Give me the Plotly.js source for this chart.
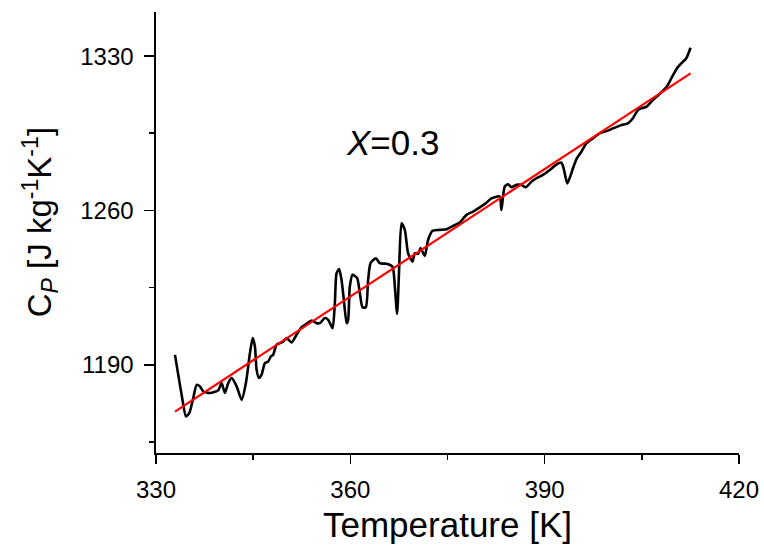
<!DOCTYPE html>
<html>
<head>
<meta charset="utf-8">
<script src="https://cdn.plot.ly/plotly-3.0.1.min.js"></script>
<style>html,body{margin:0;padding:0;background:#fff;}#chart{width:764px;height:548px;}</style>
</head>
<body>
<div id="chart"></div>
<script>
// Measured heat capacity (black curve)
var temperature = [332.93,333.96,334.63,335.14,335.75,336.28,336.79,337.30,338.33,339.61,340.13,340.64,341.15,341.68,342.45,343.22,343.88,344.50,344.92,345.27,345.53,345.89,346.30,346.81,347.32,347.74,348.09,348.25,348.62,349.13,349.64,350.16,350.93,351.70,352.47,353.25,354.02,354.79,355.30,356.07,356.58,357.26,357.61,357.87,358.27,358.64,359.00,359.42,359.66,359.92,360.34,361.05,361.47,361.88,362.39,362.75,363.12,363.94,364.55,365.59,366.51,366.87,367.22,367.53,367.90,368.41,368.92,369.60,369.95,370.46,370.83,371.49,372.00,372.68,373.81,374.84,376.12,376.89,377.93,378.94,379.98,381.01,381.78,383.06,383.32,383.83,384.34,384.87,385.64,386.41,387.07,387.95,388.72,389.74,390.78,391.70,392.58,392.93,393.50,394.37,394.89,395.66,396.43,397.45,398.49,399.77,400.54,401.84,402.85,403.62,404.40,404.92,405.69,406.71,407.74,408.78,409.55,410.41,411.09,411.86,412.52];
var cp = [1194.5,1176.4,1166.6,1168.1,1174.9,1180.9,1180.2,1177.9,1177.2,1178.4,1181.7,1177.2,1181.7,1184.0,1180.2,1174.1,1181.7,1195.3,1202.1,1198.3,1187.7,1184.0,1185.5,1190.8,1191.5,1193.8,1194.5,1196.0,1199.1,1199.8,1200.6,1202.1,1200.1,1203.6,1207.1,1208.6,1210.1,1208.9,1208.9,1211.2,1210.4,1206.6,1218.0,1231.5,1233.4,1228.5,1219.4,1208.9,1210.4,1225.5,1230.8,1229.3,1222.5,1216.1,1216.1,1228.5,1236.1,1238.3,1236.1,1235.8,1234.5,1225.5,1213.1,1233.0,1254.2,1251.2,1240.6,1236.8,1240.6,1240.3,1242.9,1239.4,1246.6,1250.8,1251.2,1251.5,1253.4,1254.5,1258.0,1259.5,1261.4,1263.5,1265.5,1266.3,1260.2,1270.8,1271.9,1270.5,1271.6,1271.6,1270.5,1273.0,1274.6,1276.1,1278.3,1280.6,1281.7,1279.1,1272.3,1279.1,1283.2,1286.6,1290.4,1292.7,1295.0,1296.2,1297.2,1298.7,1299.5,1301.8,1305.5,1306.3,1307.0,1310.1,1312.8,1315.8,1319.9,1324.4,1326.7,1329.0,1333.8];

// Linear fit (red line)
var fitT = [332.93, 412.52];
var fitCp = [1168.8, 1322.2];

var xTickVals = [330, 360, 390, 420];
var yTickVals = [1190, 1260, 1330];

var FONT = 'Liberation Sans, Arial, sans-serif';

var traces = [
  {x: temperature, y: cp, mode: 'lines', type: 'scatter',
   line: {color: '#000000', width: 2.6, shape: 'spline', smoothing: 0.6}, hoverinfo: 'skip'},
  {x: fitT, y: fitCp, mode: 'lines', type: 'scatter',
   line: {color: '#ff0000', width: 2.2}, hoverinfo: 'skip'}
];

var layout = {
  width: 764, height: 548,
  margin: {l: 156, r: 25, t: 12, b: 95, pad: 0},
  paper_bgcolor: '#ffffff', plot_bgcolor: '#ffffff',
  showlegend: false,
  font: {family: FONT, color: '#000000'},
  xaxis: {
    range: [330, 420], tickmode: 'array', tickvals: xTickVals, ticktext: xTickVals.map(String),
    showgrid: false, zeroline: false, showline: true, linecolor: '#000', linewidth: 1.6,
    ticks: 'outside', ticklen: 9, tickwidth: 1.6, tickcolor: '#000',
    ticklabelstandoff: 6,
    tickfont: {family: FONT, size: 24, color: '#000'},
    minor: {dtick: 15, tick0: 330, ticks: 'outside', ticklen: 5, tickwidth: 1.6, tickcolor: '#000', showgrid: false},
    title: {text: 'Temperature [K]', font: {family: FONT, size: 35, color: '#000'}, standoff: 10}
  },
  yaxis: {
    range: [1150, 1350], tickmode: 'array', tickvals: yTickVals, ticktext: yTickVals.map(String),
    showgrid: false, zeroline: false, showline: true, linecolor: '#000', linewidth: 1.6,
    ticks: 'outside', ticklen: 10, tickwidth: 1.6, tickcolor: '#000',
    ticklabelstandoff: 6,
    tickfont: {family: FONT, size: 24, color: '#000'},
    minor: {dtick: 35, tick0: 1190, ticks: 'outside', ticklen: 5, tickwidth: 1.6, tickcolor: '#000', showgrid: false}
  },
  annotations: [
    {
      x: 366.56, y: 1290.6, xref: 'x', yref: 'y', showarrow: false,
      xanchor: 'center', yanchor: 'middle',
      text: '<i>X</i>=0.3', font: {family: FONT, size: 35, color: '#000'}
    },
    {
      x: -0.199, y: 0.523, xref: 'paper', yref: 'paper', showarrow: false,
      xanchor: 'center', yanchor: 'middle', textangle: -90,
      text: 'C<sub><i>P</i></sub> [J kg<sup>-1</sup>K<sup>-1</sup>]',
      font: {family: FONT, size: 33, color: '#000'}
    }
  ]
};

Plotly.newPlot('chart', traces, layout, {displayModeBar: false, staticPlot: true});
</script>
</body>
</html>
